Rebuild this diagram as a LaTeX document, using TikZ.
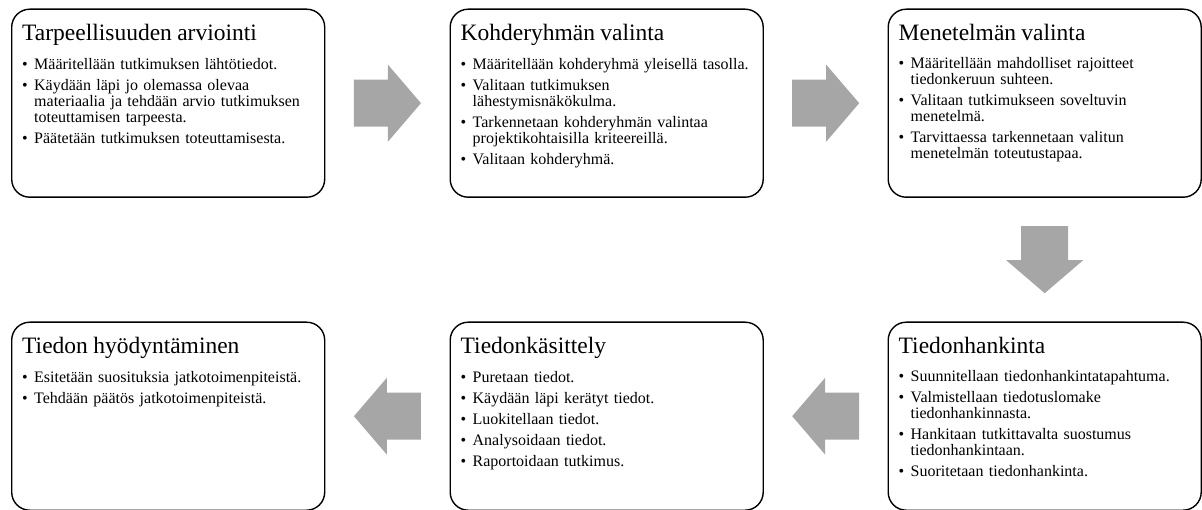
\documentclass[tikz,border=0pt]{standalone}
\usepackage{fontspec}
\setmainfont{Liberation Serif}
\usetikzlibrary{calc}
\definecolor{arrowgray}{RGB}{166,166,166}
\newcommand\boxtitle[1]{\noindent{\fontsize{23.5}{26}\selectfont #1\par}\vspace{7.5pt}}
\newcommand\bitem[1]{\par\hangindent=12pt\hangafter=1\noindent\makebox[12pt][l]{\textbullet}#1}
\newcommand\blockarrow[2]{%
  \begin{scope}[shift={(#1)}, rotate=#2]
    \fill[arrowgray] (-33.5,-23.5) -- (0.5,-23.5) -- (0.5,-38.5) -- (33.5,0) -- (0.5,38.5) -- (0.5,23.5) -- (-33.5,23.5) -- cycle;
  \end{scope}}
\tikzset{
  stepbox/.style={draw=black, line width=1.4pt, rounded corners=18pt, minimum width=313pt, minimum height=188pt, inner sep=0pt, anchor=north west},
  content/.style={anchor=north west, inner sep=0pt, text width=300pt, align=left, font=\fontsize{16}{16}\selectfont},
}
\begin{document}
\begin{tikzpicture}[x=1pt,y=-1pt]
\useasboundingbox (0,0) rectangle (1202,510);
% boxes
\node[stepbox] (b1) at (11,8.5) {};
\node[stepbox] (b2) at (449.5,8.5) {};
\node[stepbox] (b3) at (887.5,8.5) {};
\node[stepbox] (b4) at (11,321.5) {};
\node[stepbox] (b5) at (449.5,321.5) {};
\node[stepbox] (b6) at (887.5,321.5) {};
% contents
\node[content] (t1) at ($(b1.north west)+(11,15)$) {\setlength{\parskip}{5pt}\boxtitle{Tarpeellisuuden arviointi}%
\bitem{Määritellään tutkimuksen lähtötiedot.}%
\bitem{Käydään läpi jo olemassa olevaa\newline materiaalia ja tehdään arvio tutkimuksen\newline toteuttamisen tarpeesta.}%
\bitem{Päätetään tutkimuksen toteuttamisesta.}\par};
\node[content] (t2) at ($(b2.north west)+(11,15)$) {\setlength{\parskip}{5pt}\boxtitle{Kohderyhmän valinta}%
\bitem{Määritellään kohderyhmä yleisellä tasolla.}%
\bitem{Valitaan tutkimuksen\newline lähestymisnäkökulma.}%
\bitem{Tarkennetaan kohderyhmän valintaa\newline projektikohtaisilla kriteereillä.}%
\bitem{Valitaan kohderyhmä.}\par};
\node[content] (t3) at ($(b3.north west)+(11,15)$) {\setlength{\parskip}{5pt}\boxtitle{Menetelmän valinta}%
\bitem{Määritellään mahdolliset rajoitteet\newline tiedonkeruun suhteen.}%
\bitem{Valitaan tutkimukseen soveltuvin\newline menetelmä.}%
\bitem{Tarvittaessa tarkennetaan valitun\newline menetelmän toteutustapaa.}\par};
\node[content] (t4) at ($(b4.north west)+(11,15)$) {\setlength{\parskip}{5pt}\boxtitle{Tiedon hyödyntäminen}%
\bitem{Esitetään suosituksia jatkotoimenpiteistä.}%
\bitem{Tehdään päätös jatkotoimenpiteistä.}\par};
\node[content] (t5) at ($(b5.north west)+(11,15)$) {\setlength{\parskip}{5pt}\boxtitle{Tiedonkäsittely}%
\bitem{Puretaan tiedot.}%
\bitem{Käydään läpi kerätyt tiedot.}%
\bitem{Luokitellaan tiedot.}%
\bitem{Analysoidaan tiedot.}%
\bitem{Raportoidaan tutkimus.}\par};
\node[content] (t6) at ($(b6.north west)+(11,15)$) {\setlength{\parskip}{5pt}\boxtitle{Tiedonhankinta}%
\bitem{Suunnitellaan tiedonhankintatapahtuma.}%
\bitem{Valmistellaan tiedotuslomake\newline tiedonhankinnasta.}%
\bitem{Hankitaan tutkittavalta suostumus\newline tiedonhankintaan.}%
\bitem{Suoritetaan tiedonhankinta.}\par};
% block arrows between the steps
\coordinate (a1) at ($(b1.east)!0.5!(b2.west)$);
\coordinate (a2) at ($(b2.east)!0.5!(b3.west)$);
\coordinate (a3) at ($(b3.south)!0.5!(b6.north)$);
\coordinate (a4) at ($(b6.west)!0.5!(b5.east)$);
\coordinate (a5) at ($(b5.west)!0.5!(b4.east)$);
\blockarrow{a1}{0}
\blockarrow{a2}{0}
\blockarrow{a3}{-90}
\blockarrow{a4}{180}
\blockarrow{a5}{180}
\end{tikzpicture}
\end{document}
